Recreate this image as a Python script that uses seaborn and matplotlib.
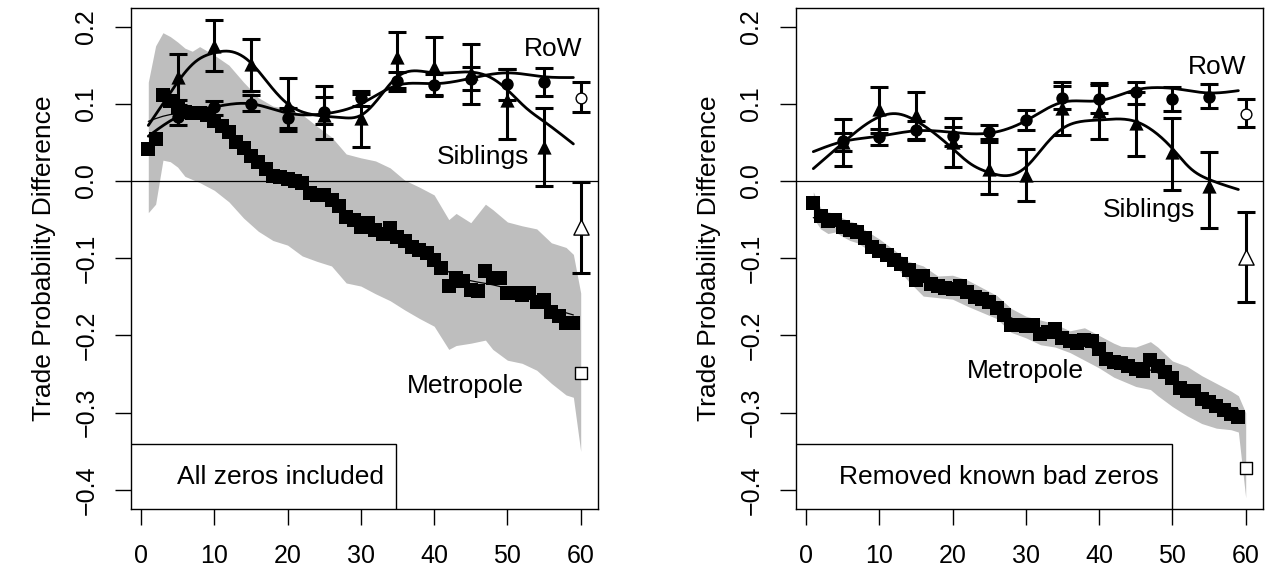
import numpy as np
import pandas as pd
import matplotlib
matplotlib.use("Agg")
import matplotlib.pyplot as plt
import seaborn as sns

# ---- data ----
years = list(range(1, 60))
bin_years = [5, 10, 15, 20, 25, 30, 35, 40, 45, 50, 55]

# panel 1: all zeros included
metro_all = [0.042, 0.055, 0.111, 0.104, 0.096, 0.089, 0.088, 0.088, 0.085, 0.078,
             0.071, 0.063, 0.051, 0.043, 0.032, 0.024, 0.016, 0.007, 0.005, 0.003,
             0.000, -0.003, -0.015, -0.018, -0.018, -0.025, -0.032, -0.047, -0.050, -0.059,
             -0.055, -0.063, -0.068, -0.061, -0.072, -0.078, -0.085, -0.089, -0.093, -0.102,
             -0.113, -0.136, -0.126, -0.130, -0.141, -0.143, -0.117, -0.126, -0.126, -0.145,
             -0.145, -0.147, -0.145, -0.156, -0.154, -0.169, -0.175, -0.184, -0.184]
band_x_all = [1, 2, 3, 4, 5, 6, 7, 8, 10, 12, 14, 16, 18, 20, 22, 24, 26, 28, 30, 32,
              34, 36, 38, 40, 42, 43, 45, 47, 48, 50, 52, 54, 56, 58, 59, 60]
band_hi_all = [0.128, 0.175, 0.192, 0.187, 0.180, 0.172, 0.168, 0.174, 0.163, 0.150,
               0.128, 0.108, 0.097, 0.094, 0.086, 0.071, 0.057, 0.035, 0.030, 0.026,
               0.017, 0.001, -0.008, -0.018, -0.050, -0.042, -0.054, -0.030, -0.037, -0.053,
               -0.058, -0.062, -0.080, -0.086, -0.095, -0.145]
band_lo_all = [-0.041, -0.030, 0.027, 0.025, 0.018, 0.006, 0.002, -0.002, -0.012, -0.027,
               -0.048, -0.065, -0.077, -0.083, -0.097, -0.104, -0.110, -0.132, -0.136, -0.146,
               -0.155, -0.167, -0.178, -0.188, -0.218, -0.213, -0.210, -0.206, -0.218, -0.232,
               -0.236, -0.245, -0.262, -0.277, -0.280, -0.350]
row_all = [0.083, 0.096, 0.100, 0.081, 0.089, 0.107, 0.130, 0.124, 0.132, 0.126, 0.128]
row_all_lo = [0.072, 0.085, 0.090, 0.068, 0.074, 0.097, 0.117, 0.110, 0.118, 0.105, 0.110]
row_all_hi = [0.098, 0.104, 0.111, 0.095, 0.109, 0.117, 0.141, 0.138, 0.148, 0.145, 0.146]
sib_all = [0.135, 0.175, 0.152, 0.098, 0.085, 0.081, 0.160, 0.148, 0.140, 0.105, 0.044]
sib_all_lo = [0.105, 0.143, 0.117, 0.065, 0.055, 0.044, 0.120, 0.111, 0.100, 0.055, -0.007]
sib_all_hi = [0.165, 0.208, 0.184, 0.134, 0.123, 0.113, 0.193, 0.186, 0.178, 0.145, 0.094]
row_fit_x_all = [1, 5, 10, 15, 20, 25, 30, 35, 40, 45, 50, 55, 59]
row_fit_all = [0.058, 0.083, 0.096, 0.100, 0.088, 0.087, 0.100, 0.124, 0.126, 0.133, 0.140, 0.135, 0.134]
sib_fit_x_all = [1, 3, 5, 7.5, 10, 12, 15, 17.5, 20, 22.5, 25, 27.5, 30, 32.5, 35, 40,
                 45, 47.5, 50, 52.5, 55, 59]
sib_fit_all = [0.072, 0.100, 0.128, 0.155, 0.166, 0.168, 0.153, 0.125, 0.100, 0.088, 0.084,
               0.082, 0.085, 0.108, 0.135, 0.140, 0.141, 0.135, 0.118, 0.095, 0.077, 0.048]
pooled_all = {"row": (0.108, 0.089, 0.128), "sib": (-0.059, -0.119, -0.001), "metro": -0.248}

# panel 2: known bad zeros removed
metro_clean = [-0.029, -0.045, -0.052, -0.050, -0.060, -0.064, -0.066, -0.074, -0.085, -0.090,
               -0.096, -0.102, -0.108, -0.115, -0.128, -0.123, -0.133, -0.136, -0.139, -0.140,
               -0.136, -0.144, -0.150, -0.153, -0.157, -0.165, -0.174, -0.186, -0.187, -0.188,
               -0.186, -0.198, -0.195, -0.192, -0.203, -0.207, -0.210, -0.206, -0.207, -0.218,
               -0.230, -0.234, -0.236, -0.240, -0.244, -0.246, -0.232, -0.239, -0.247, -0.255,
               -0.268, -0.272, -0.272, -0.282, -0.286, -0.291, -0.296, -0.302, -0.305]
band_x_clean = band_x_all
band_hi_clean = [-0.014, -0.035, -0.040, -0.042, -0.048, -0.052, -0.055, -0.063, -0.075, -0.089,
                 -0.104, -0.110, -0.123, -0.122, -0.128, -0.138, -0.148, -0.165, -0.175, -0.180,
                 -0.185, -0.194, -0.190, -0.200, -0.210, -0.214, -0.215, -0.208, -0.215, -0.233,
                 -0.240, -0.252, -0.262, -0.272, -0.278, -0.300]
band_lo_clean = [-0.048, -0.062, -0.068, -0.066, -0.072, -0.077, -0.080, -0.086, -0.097, -0.108,
                 -0.130, -0.149, -0.151, -0.153, -0.162, -0.170, -0.178, -0.196, -0.203, -0.212,
                 -0.215, -0.222, -0.232, -0.242, -0.254, -0.258, -0.266, -0.270, -0.278, -0.292,
                 -0.304, -0.314, -0.320, -0.322, -0.325, -0.410]
row_clean = [0.052, 0.057, 0.066, 0.058, 0.064, 0.079, 0.108, 0.106, 0.115, 0.106, 0.109]
row_clean_lo = [0.039, 0.046, 0.055, 0.045, 0.055, 0.066, 0.093, 0.088, 0.100, 0.090, 0.094]
row_clean_hi = [0.062, 0.067, 0.078, 0.070, 0.072, 0.092, 0.123, 0.124, 0.128, 0.122, 0.126]
sib_clean = [0.050, 0.093, 0.085, 0.050, 0.015, 0.008, 0.095, 0.091, 0.075, 0.038, -0.007]
sib_clean_lo = [0.020, 0.062, 0.053, 0.018, -0.017, -0.026, 0.059, 0.055, 0.033, -0.012, -0.061]
sib_clean_hi = [0.080, 0.122, 0.115, 0.081, 0.050, 0.041, 0.128, 0.127, 0.115, 0.082, 0.038]
row_fit_x_clean = [1, 5, 10, 15, 20, 25, 30, 35, 40, 45, 48, 50, 55, 59]
row_fit_clean = [0.038, 0.051, 0.058, 0.065, 0.063, 0.062, 0.078, 0.102, 0.104, 0.118, 0.121,
                 0.120, 0.114, 0.117]
sib_fit_x_clean = [1, 5, 10, 12.5, 15, 20, 22.5, 25, 27.5, 30, 32.5, 35, 37.5, 40, 45, 47.5,
                   50, 52.5, 55, 59]
sib_fit_clean = [0.016, 0.049, 0.083, 0.087, 0.078, 0.042, 0.022, 0.011, 0.007, 0.018, 0.045,
                 0.068, 0.077, 0.079, 0.077, 0.064, 0.042, 0.016, 0.002, -0.011]
pooled_clean = {"row": (0.087, 0.070, 0.106), "sib": (-0.098, -0.156, -0.040), "metro": -0.372}

y_ticks = [-0.4, -0.3, -0.2, -0.1, 0.0, 0.1, 0.2]
y_tick_labels = ["\u22120.4", "\u22120.3", "\u22120.2", "\u22120.1", "0.0", "0.1", "0.2"]
x_ticks = [0, 10, 20, 30, 40, 50, 60]

panels = [
    dict(metro=metro_all, bx=band_x_all, bhi=band_hi_all, blo=band_lo_all,
         row=row_all, row_lo=row_all_lo, row_hi=row_all_hi,
         sib=sib_all, sib_lo=sib_all_lo, sib_hi=sib_all_hi,
         rfx=row_fit_x_all, rf=row_fit_all, sfx=sib_fit_x_all, sf=sib_fit_all,
         pooled=pooled_all, note="All zeros included", note_w=0.567, note_x=0.541,
         labels={"RoW": (56.2, 0.171), "Siblings": (46.7, 0.031), "Metropole": (44.3, -0.266)}),
    dict(metro=metro_clean, bx=band_x_clean, bhi=band_hi_clean, blo=band_lo_clean,
         row=row_clean, row_lo=row_clean_lo, row_hi=row_clean_hi,
         sib=sib_clean, sib_lo=sib_clean_lo, sib_hi=sib_clean_hi,
         rfx=row_fit_x_clean, rf=row_fit_clean, sfx=sib_fit_x_clean, sf=sib_fit_clean,
         pooled=pooled_clean, note="Removed known bad zeros", note_w=0.806, note_x=0.777,
         labels={"RoW": (56.1, 0.148), "Siblings": (46.8, -0.0375), "Metropole": (29.9, -0.246)}),
]


def spline(xk, yk, n=300):
    # natural cubic spline through the read-off points of a fitted curve
    xk, yk = np.asarray(xk, float), np.asarray(yk, float)
    h = np.diff(xk)
    m = len(xk)
    A = np.zeros((m, m))
    r = np.zeros(m)
    A[0, 0] = A[-1, -1] = 1
    for i in range(1, m - 1):
        A[i, i - 1], A[i, i], A[i, i + 1] = h[i - 1], 2 * (h[i - 1] + h[i]), h[i]
        r[i] = 3 * ((yk[i + 1] - yk[i]) / h[i] - (yk[i] - yk[i - 1]) / h[i - 1])
    c = np.linalg.solve(A, r)
    b = (yk[1:] - yk[:-1]) / h - h * (2 * c[:-1] + c[1:]) / 3
    d = (c[1:] - c[:-1]) / (3 * h)
    xs = np.linspace(xk[0], xk[-1], n)
    idx = np.clip(np.searchsorted(xk, xs) - 1, 0, m - 2)
    dx = xs - xk[idx]
    return xs, yk[idx] + b[idx] * dx + c[idx] * dx ** 2 + d[idx] * dx ** 3


def kernel_smooth(x, y, bw=3.0):
    x, y = np.asarray(x, float), np.asarray(y, float)
    w = np.exp(-0.5 * ((x[:, None] - x[None, :]) / bw) ** 2)
    return (w * y[None, :]).sum(1) / w.sum(1)


sns.set_theme(style="ticks")
plt.rcParams["font.family"] = ["Liberation Sans", "DejaVu Sans"]
plt.rcParams["axes.unicode_minus"] = True

FS = 19
TICK_FS = 18
fig = plt.figure(figsize=(12.72, 5.72), dpi=100)
lefts = [131 / 1272, 796 / 1272]

for p, left in zip(panels, lefts):
    ax = fig.add_axes([left, 63.5 / 572, 467 / 1272, 500.5 / 572])

    ax.fill_between(p["bx"], p["blo"], p["bhi"], color="#BEBEBE", linewidth=0, zorder=1)
    ax.axhline(0, color="black", linewidth=0.9, zorder=2)

    metro = pd.DataFrame({"year": years, "diff": p["metro"]})
    metro["fit"] = kernel_smooth(metro["year"], metro["diff"])
    sns.lineplot(data=metro, x="year", y="fit", color="black", linewidth=0.9, ax=ax, zorder=3)
    sns.scatterplot(data=metro, x="year", y="diff", marker="s", s=90, color="black",
                    linewidth=0, ax=ax, zorder=4)

    for key, mk, sz in [("sib", "^", 105), ("row", "o", 80)]:
        vals = np.array(p[key])
        lo, hi = np.array(p[key + "_lo"]), np.array(p[key + "_hi"])
        ax.errorbar(bin_years, vals, yerr=[vals - lo, hi - vals], fmt="none", ecolor="black",
                    elinewidth=2.2, capsize=6.5, capthick=2.2, zorder=5)
        pts = pd.DataFrame({"year": bin_years, "diff": vals})
        sns.scatterplot(data=pts, x="year", y="diff", marker=mk, s=sz, color="black",
                        linewidth=0, ax=ax, zorder=6)

    for fx, fy in [(p["rfx"], p["rf"]), (p["sfx"], p["sf"])]:
        xs, ys = spline(fx, fy)
        sns.lineplot(x=xs, y=ys, color="black", linewidth=2.0, sort=False, ax=ax, zorder=5)

    # pooled estimates at year 60
    pr, ps = p["pooled"]["row"], p["pooled"]["sib"]
    for (v, lo, hi), mk, sz in [(pr, "o", 60), (ps, "^", 120)]:
        ax.errorbar([60], [v], yerr=[[v - lo], [hi - v]], fmt="none", ecolor="black",
                    elinewidth=2.2, capsize=6.5, capthick=2.2, zorder=5)
        ax.scatter([60], [v], marker=mk, s=sz, facecolor="white", edgecolor="black",
                   linewidth=1.0, zorder=6)
    ax.scatter([60], [p["pooled"]["metro"]], marker="s", s=80, facecolor="white",
               edgecolor="black", linewidth=1.0, zorder=6)

    for txt, (tx, ty) in p["labels"].items():
        ax.text(tx, ty, txt, ha="center", va="center", fontsize=FS, color="black", zorder=7)

    # boxed panel note in the lower left corner
    ax.add_patch(plt.Rectangle((0, 0), p["note_w"], 0.129, transform=ax.transAxes,
                               facecolor="white", edgecolor="black", linewidth=1.0, zorder=8))
    ax.text(p["note_x"], 0.063, p["note"], transform=ax.transAxes, ha="right", va="center",
            fontsize=FS, color="black", zorder=9)

    ax.set_xlim(-1.36, 62.36)
    ax.set_ylim(-0.424, 0.224)
    ax.set_xticks(x_ticks)
    ax.set_xticklabels([str(t) for t in x_ticks])
    ax.set_yticks(y_ticks)
    ax.set_yticklabels(y_tick_labels, rotation=90, va="center")
    ax.tick_params(length=11.5, width=1.0, color="black", labelsize=TICK_FS, labelcolor="black")
    ax.tick_params(axis="x", pad=14)
    ax.tick_params(axis="y", pad=12)
    for s in ax.spines.values():
        s.set_visible(True)
        s.set_color("black")
        s.set_linewidth(1.0)
    ax.set_xlabel("")
    ax.set_ylabel("Trade Probability Difference", fontsize=FS, color="black")
    ax.yaxis.set_label_coords(-0.16, 0.5)

fig.savefig("out.png", dpi=100)
